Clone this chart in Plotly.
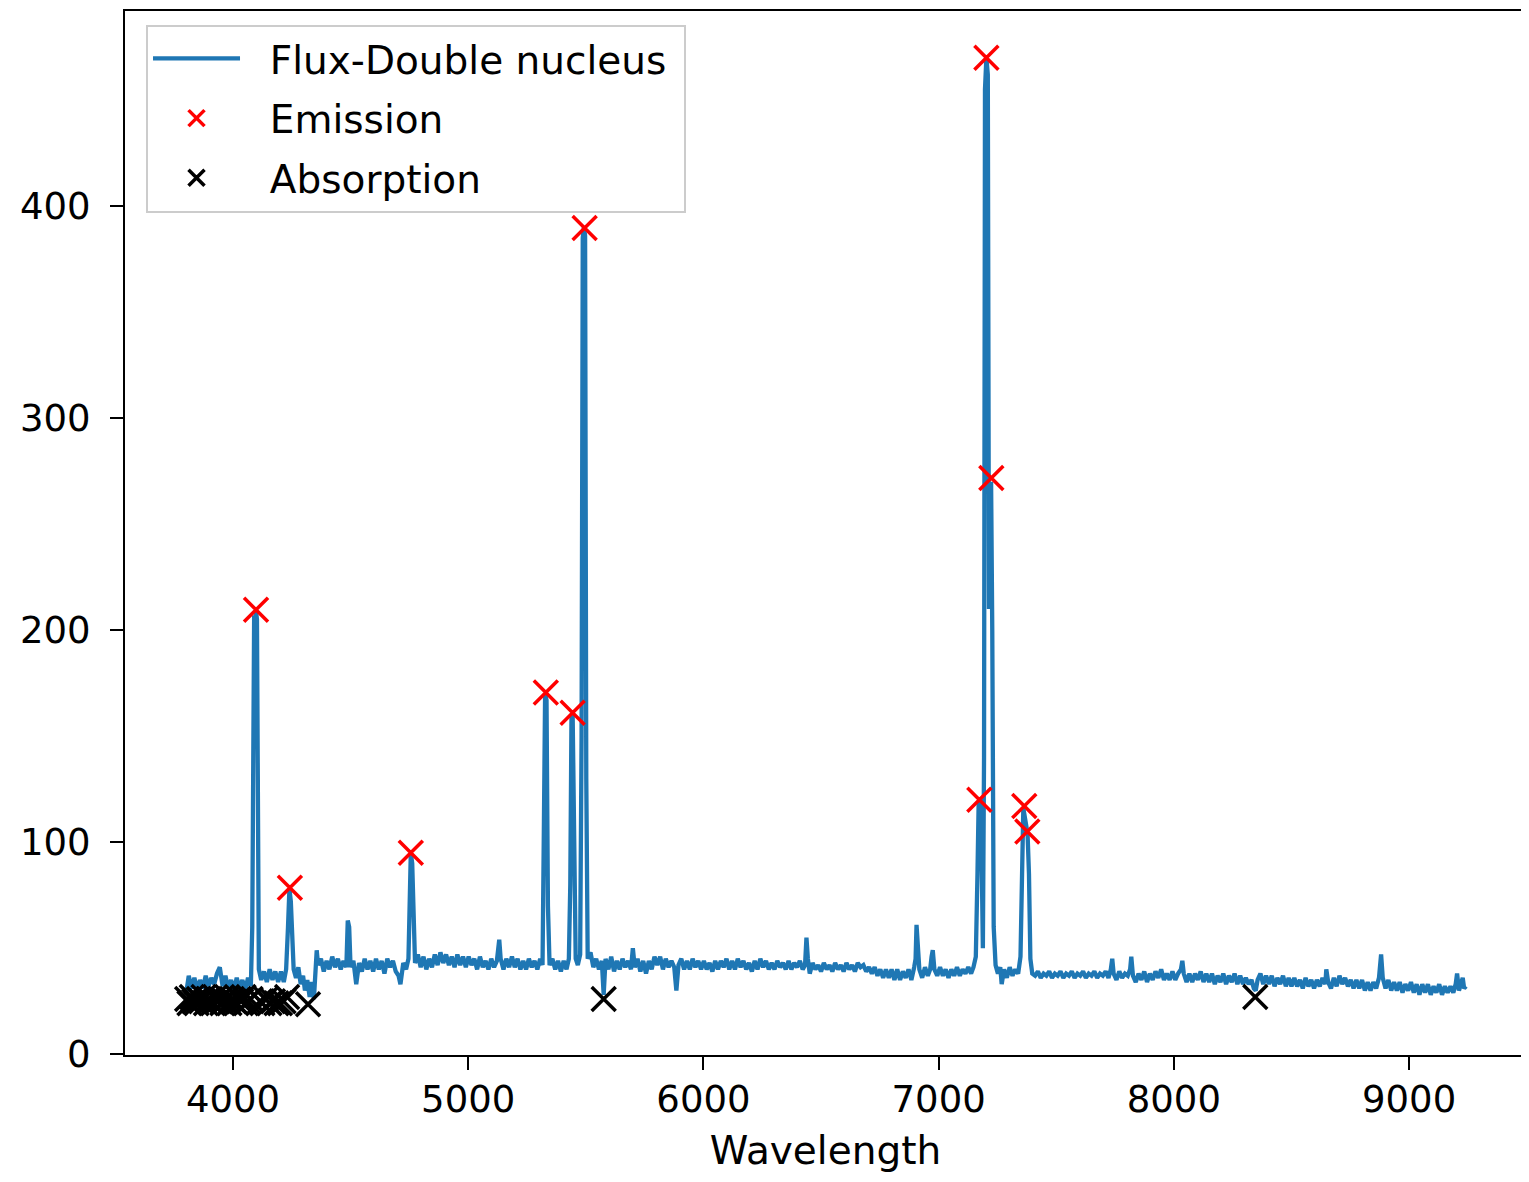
import plotly.graph_objects as go

# ---- spectrum ----
wavelength = [
    3800, 3812, 3824, 3836, 3848, 3860, 3872, 3884, 3896, 3908,
    3920, 3932, 3944, 3956, 3968, 3980, 3992, 4004, 4016, 4028,
    4040, 4052, 4064, 4076, 4082, 4086, 4090, 4094, 4098, 4102,
    4106, 4110, 4120, 4132, 4144, 4156, 4168, 4180, 4192, 4204,
    4216, 4226, 4234, 4240, 4246, 4252, 4258, 4268, 4278, 4288,
    4298, 4306, 4316, 4326, 4336, 4344, 4350, 4356, 4362, 4374,
    4386, 4398, 4410, 4422, 4434, 4446, 4458, 4470, 4482, 4488,
    4494, 4500, 4512, 4524, 4536, 4548, 4560, 4572, 4584, 4596,
    4608, 4620, 4632, 4644, 4656, 4668, 4680, 4692, 4704, 4712,
    4724, 4736, 4746, 4752, 4756, 4762, 4768, 4774, 4786, 4798,
    4810, 4822, 4834, 4846, 4858, 4870, 4882, 4894, 4906, 4918,
    4930, 4942, 4954, 4966, 4978, 4990, 5002, 5014, 5026, 5038,
    5050, 5062, 5074, 5086, 5098, 5110, 5122, 5132, 5138, 5150,
    5162, 5174, 5186, 5198, 5210, 5222, 5234, 5246, 5258, 5270,
    5282, 5294, 5306, 5316, 5322, 5327, 5333, 5339, 5346, 5358,
    5370, 5382, 5394, 5406, 5418, 5428, 5434, 5439, 5444, 5450,
    5457, 5466, 5476, 5482, 5487, 5492, 5497, 5502, 5508, 5520,
    5532, 5544, 5556, 5568, 5576, 5584, 5596, 5608, 5620, 5632,
    5644, 5656, 5668, 5680, 5692, 5700, 5708, 5720, 5732, 5744,
    5756, 5768, 5780, 5792, 5804, 5816, 5828, 5840, 5852, 5864,
    5876, 5885, 5894, 5906, 5918, 5930, 5942, 5954, 5966, 5978,
    5990, 6002, 6014, 6026, 6038, 6050, 6062, 6074, 6086, 6098,
    6110, 6122, 6134, 6146, 6158, 6170, 6182, 6194, 6206, 6218,
    6230, 6242, 6254, 6266, 6278, 6290, 6302, 6314, 6326, 6338,
    6350, 6362, 6374, 6386, 6398, 6410, 6422, 6432, 6438, 6444,
    6452, 6464, 6476, 6488, 6500, 6512, 6524, 6536, 6548, 6560,
    6572, 6584, 6596, 6608, 6620, 6632, 6644, 6656, 6668, 6680,
    6692, 6704, 6716, 6728, 6740, 6752, 6764, 6776, 6788, 6800,
    6812, 6824, 6836, 6848, 6860, 6872, 6884, 6896, 6902, 6906,
    6911, 6918, 6930, 6942, 6954, 6964, 6970, 6975, 6982, 6994,
    7006, 7018, 7030, 7042, 7054, 7066, 7078, 7090, 7102, 7114,
    7126, 7138, 7148, 7158, 7165, 7170, 7176, 7182, 7188, 7193,
    7197, 7203, 7209, 7214, 7218, 7223, 7228, 7234, 7242, 7252,
    7262, 7268, 7278, 7290, 7302, 7314, 7326, 7338, 7348, 7355,
    7360, 7366, 7372, 7378, 7384, 7390, 7398, 7410, 7422, 7434,
    7446, 7458, 7470, 7482, 7494, 7506, 7518, 7530, 7542, 7554,
    7566, 7578, 7590, 7602, 7614, 7626, 7638, 7650, 7662, 7674,
    7686, 7698, 7710, 7722, 7732, 7738, 7744, 7756, 7768, 7780,
    7792, 7804, 7814, 7819, 7826, 7838, 7850, 7862, 7874, 7886,
    7898, 7910, 7922, 7934, 7946, 7958, 7970, 7982, 7994, 8006,
    8018, 8030, 8036, 8042, 8054, 8066, 8078, 8090, 8102, 8114,
    8126, 8138, 8150, 8162, 8174, 8186, 8198, 8210, 8222, 8234,
    8246, 8258, 8270, 8282, 8294, 8306, 8318, 8330, 8340, 8348,
    8356, 8368, 8380, 8392, 8404, 8416, 8428, 8440, 8452, 8464,
    8476, 8488, 8500, 8512, 8524, 8536, 8548, 8560, 8572, 8584,
    8596, 8608, 8620, 8632, 8644, 8648, 8656, 8668, 8680, 8692,
    8704, 8716, 8728, 8740, 8752, 8764, 8776, 8788, 8800, 8812,
    8824, 8836, 8848, 8860, 8872, 8881, 8888, 8900, 8912, 8924,
    8936, 8948, 8960, 8972, 8984, 8996, 9008, 9020, 9032, 9044,
    9056, 9068, 9080, 9092, 9104, 9116, 9128, 9140, 9152, 9164,
    9176, 9188, 9198, 9204, 9212, 9222, 9228, 9234, 9242,
]
flux = [
    28, 37, 31, 36, 30, 35, 31, 37, 32, 36,
    33, 38, 41, 32, 37, 31, 35, 30, 36, 31,
    35, 30, 36, 32, 60, 180, 207, 200, 209, 205,
    110, 40, 35, 39, 34, 40, 35, 39, 34, 39,
    34, 40, 60, 78, 72, 50, 40, 36, 41, 33,
    37, 30, 35, 27, 34, 26, 44, 49, 42, 45,
    39, 44, 40, 46, 41, 45, 40, 44, 41, 63,
    60, 41, 44, 33, 43, 39, 45, 40, 44, 39,
    45, 40, 44, 38, 45, 41, 44, 39, 37, 33,
    43, 40, 45, 75, 95, 90, 55, 43, 47, 41,
    46, 40, 45, 41, 47, 42, 48, 43, 47, 42,
    46, 41, 47, 42, 46, 41, 46, 42, 45, 40,
    46, 41, 44, 40, 45, 41, 44, 54, 45, 40,
    45, 41, 46, 41, 45, 40, 44, 40, 45, 41,
    44, 40, 45, 42, 110, 170, 167, 70, 42, 45,
    40, 44, 39, 44, 40, 45, 80, 158, 161, 85,
    45, 42, 47, 150, 385, 390, 386, 130, 45, 48,
    41, 45, 40, 44, 28, 45, 40, 46, 39, 44,
    40, 45, 41, 44, 40, 50, 41, 45, 39, 44,
    38, 44, 40, 46, 42, 46, 40, 45, 41, 44,
    41, 30, 42, 45, 40, 44, 40, 45, 41, 44,
    40, 44, 40, 43, 39, 44, 40, 44, 41, 45,
    40, 44, 40, 45, 41, 44, 40, 43, 39, 44,
    40, 45, 41, 44, 40, 43, 40, 44, 41, 43,
    40, 44, 40, 43, 41, 44, 40, 42, 55, 45,
    38, 43, 40, 42, 39, 43, 40, 42, 39, 43,
    40, 42, 39, 43, 40, 42, 39, 43, 41, 42,
    39, 41, 38, 41, 37, 40, 36, 40, 36, 40,
    35, 40, 35, 39, 36, 40, 35, 41, 45, 61,
    52, 40, 36, 41, 37, 40, 46, 49, 40, 37,
    41, 37, 40, 36, 40, 37, 41, 37, 40, 38,
    41, 38, 41, 46, 85, 118, 121, 100, 50, 140,
    455, 470, 462, 210, 240, 270, 200, 60, 42, 38,
    41, 33, 40, 36, 41, 37, 40, 38, 46, 85,
    116, 112, 108, 104, 85, 45, 38, 37, 39, 36,
    38, 37, 39, 36, 38, 37, 39, 36, 38, 37,
    39, 36, 38, 37, 39, 36, 38, 37, 39, 36,
    38, 37, 39, 36, 40, 45, 38, 35, 39, 36,
    38, 37, 40, 46, 37, 34, 38, 35, 39, 34,
    38, 35, 39, 36, 40, 35, 38, 35, 39, 35,
    38, 40, 44, 38, 34, 38, 34, 38, 35, 39,
    34, 38, 34, 38, 33, 37, 34, 38, 33, 37,
    34, 38, 33, 37, 33, 36, 33, 35, 31, 30,
    35, 38, 33, 37, 33, 37, 32, 36, 33, 37,
    32, 36, 32, 36, 32, 35, 31, 36, 32, 35,
    31, 35, 32, 36, 33, 40, 34, 31, 36, 32,
    37, 33, 36, 32, 35, 31, 35, 31, 35, 30,
    34, 30, 34, 31, 36, 47, 36, 31, 35, 30,
    34, 30, 34, 29, 33, 30, 34, 29, 33, 28,
    33, 29, 33, 28, 32, 29, 33, 28, 32, 29,
    32, 29, 33, 38, 30, 33, 36, 31, 32,
]
assert len(wavelength) == len(flux), (len(wavelength), len(flux))

# ---- detected lines ----
emission_wl = [4098, 4242, 4756, 5330, 5444, 5495, 7173, 7203, 7224, 7364, 7377]
emission_flux = [209.6, 78.5, 95, 170.6, 161, 389.7, 120, 470, 271.7, 117, 105]

absorption_wl = [
    3805, 3815, 3825, 3835, 3845, 3855, 3865, 3875, 3885, 3895, 3905, 3915, 3925, 3935,
    3945, 3955, 3965, 3975, 3985, 3995, 4005, 4015, 4025, 4035, 4045, 4055, 4065, 4075,
    4115, 4125, 4140, 4155, 4170, 4185, 4200, 4215, 4230, 4319, 5576, 8346,
]
absorption_flux = [
    26, 24, 27, 25, 24, 26, 25, 27, 24, 26, 25, 24, 27, 25,
    26, 24, 25, 27, 24, 26, 25, 24, 26, 25, 27, 24, 25, 26,
    25, 24, 26, 24, 25, 24, 24, 25, 27, 23.5, 26, 27,
]

x_ticks = [4000, 5000, 6000, 7000, 8000, 9000]
y_ticks = [0, 100, 200, 300, 400]

FONT = "DejaVu Sans"
NB = "\u00a0\u00a0"

fig = go.Figure()
fig.add_trace(go.Scatter(
    x=wavelength, y=flux, mode="lines", name=NB + "Flux-Double nucleus\u00a0",
    line=dict(color="#1f77b4", width=4.3), legendgroup="a",
))
fig.add_trace(go.Scatter(
    x=emission_wl, y=emission_flux, mode="markers", name=NB + "Emission",
    marker=dict(symbol="x-thin", size=24, line=dict(color="red", width=3.5), color="red"),
    legendgroup="b",
))
fig.add_trace(go.Scatter(
    x=absorption_wl, y=absorption_flux, mode="markers", name=NB + "Absorption",
    marker=dict(symbol="x-thin", size=24, line=dict(color="black", width=3.5), color="black"),
    legendgroup="c",
))

axis_common = dict(
    showgrid=False, zeroline=False, showline=True, linecolor="black", linewidth=2,
    mirror=True, ticks="outside", ticklen=13, tickwidth=2, tickcolor="black",
    tickfont=dict(family=FONT, size=37, color="black"),
)
fig.update_layout(
    width=1521, height=1174,
    margin=dict(l=117, r=2, t=1, b=127),
    paper_bgcolor="white", plot_bgcolor="white",
    font=dict(family=FONT, size=37, color="black"),
    xaxis=dict(range=[3541, 9497], tickvals=x_ticks, ticklabelstandoff=-2,
               title=dict(text="Wavelength", font=dict(family=FONT, size=39), standoff=16),
               **axis_common),
    yaxis=dict(range=[-0.4, 492], tickvals=y_ticks, ticklabelstandoff=12, **axis_common),
    legend=dict(
        x=0.015, y=0.987, xanchor="left", yanchor="top",
        bgcolor="rgba(255,255,255,0.8)", bordercolor="#cccccc", borderwidth=2,
        font=dict(family=FONT, size=39, color="black"),
        tracegroupgap=6, itemwidth=87,
    ),
    showlegend=True,
)

fig.write_html("out.html")
